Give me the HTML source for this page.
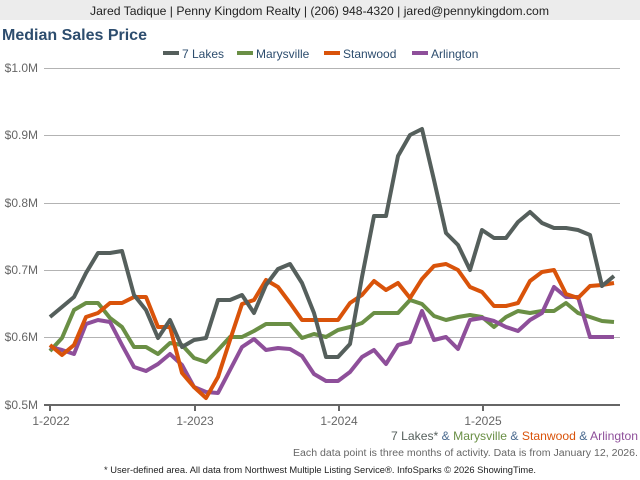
<!DOCTYPE html>
<html><head><meta charset="utf-8"><style>
body{margin:0;width:640px;height:480px;background:#fff;font-family:"Liberation Sans",Arial,sans-serif;overflow:hidden;position:relative}
.hdr{position:absolute;left:0;top:0;width:640px;height:20px;background:#ececec}
</style></head><body>
<div class="hdr"></div>
<svg width="640" height="480" style="position:absolute;left:0;top:0" font-family="Liberation Sans, Arial, sans-serif">
<text x="90" y="15" font-size="12" fill="#222" textLength="459" lengthAdjust="spacingAndGlyphs">Jared Tadique | Penny Kingdom Realty | (206) 948-4320 | jared@pennykingdom.com</text>
<text x="2" y="40" font-size="16" font-weight="bold" fill="#2d4d6e">Median Sales Price</text>
<g font-size="12" fill="#2d4d6e">
<rect x="163" y="51" width="16" height="4" fill="#555f5c"/><text x="182" y="58">7 Lakes</text>
<rect x="237" y="51" width="16" height="4" fill="#6a8f45"/><text x="256" y="58">Marysville</text>
<rect x="324" y="51" width="16" height="4" fill="#d9530a"/><text x="343" y="58">Stanwood</text>
<rect x="412" y="51" width="16" height="4" fill="#8e4f9a"/><text x="431" y="58">Arlington</text>
</g>
<g stroke="#b3b3b3" stroke-width="1">
<line x1="44" y1="68.5" x2="620" y2="68.5"/><line x1="44" y1="135.5" x2="620" y2="135.5"/><line x1="44" y1="203.5" x2="620" y2="203.5"/><line x1="44" y1="270.5" x2="620" y2="270.5"/><line x1="44" y1="337.5" x2="620" y2="337.5"/>
</g>
<g font-size="12" fill="#666" text-anchor="end">
<text x="38" y="72">$1.0M</text><text x="38" y="139">$0.9M</text><text x="38" y="207">$0.8M</text><text x="38" y="274">$0.7M</text><text x="38" y="341">$0.6M</text><text x="38" y="409">$0.5M</text>
</g>
<line x1="44" y1="405" x2="620" y2="405" stroke="#666" stroke-width="2"/>
<g stroke="#666" stroke-width="2"><line x1="50" y1="405" x2="50" y2="411"/><line x1="195" y1="405" x2="195" y2="411"/><line x1="339" y1="405" x2="339" y2="411"/><line x1="483" y1="405" x2="483" y2="411"/></g>
<g font-size="12" fill="#666" text-anchor="middle"><text x="51" y="425">1-2022</text><text x="195" y="425">1-2023</text><text x="339" y="425">1-2024</text><text x="483" y="425">1-2025</text></g>
<g fill="none" stroke-width="4" stroke-linejoin="round">
<polyline stroke="#6a8f45" points="50,351 62,338 74,310 86,303 98,303 110,318 122,327 134,347 146,347 158,354 170,343 182,345 194,358 206,362 218,350 230,337 242,337 254,331 266,324 278,324 290,324 302,338 314,334 326,337 338,330 350,327 362,323 374,313 386,313 398,313 410,300 422,304 434,316 446,320 458,317 470,315 482,317 494,327 506,317 518,311 530,313 542,311 554,311 566,303 578,313 590,317 602,321 614,322"/>
<polyline stroke="#8e4f9a" points="50,347 62,350 74,354 86,324 98,320 110,322 122,345 134,367 146,371 158,364 170,354 182,365 194,387 206,392 218,393 230,370 242,347 254,339 266,350 278,348 290,349 302,356 314,374 326,381 338,381 350,372 362,357 374,350 386,364 398,345 410,342 422,311 434,340 446,337 458,349 470,320 482,318 494,321 506,327 518,331 530,320 542,313 554,287 566,297 578,297 590,337 602,337 614,337"/>
<polyline stroke="#d9530a" points="50,345 62,355 74,345 86,317 98,313 110,303 122,303 134,297 146,297 158,327 170,327 182,373 194,387 206,398 218,377 230,340 242,304 254,300 266,280 278,287 290,303 302,320 314,320 326,320 338,320 350,303 362,295 374,281 386,290 398,283 410,298 422,279 434,266 446,264 458,270 470,287 482,292 494,306 506,306 518,303 530,281 542,272 554,270 566,294 578,298 590,286 602,285 614,283"/>
<polyline stroke="#555f5c" points="50,317 62,307 74,297 86,273 98,253 110,253 122,251 134,295 146,310 158,338 170,320 182,347 194,340 206,338 218,300 230,300 242,295 254,313 266,285 278,269 290,264 302,283 314,313 326,357 338,357 350,344 362,277 374,216 386,216 398,156 410,135 422,129 434,180 446,233 458,245 470,270 482,230 494,238 506,238 518,222 530,212 542,223 554,228 566,228 578,230 590,235 602,286 614,276"/>
</g>
<text x="391" y="440" font-size="12" textLength="247" lengthAdjust="spacingAndGlyphs"><tspan fill="#555f5c">7 Lakes*</tspan><tspan fill="#4a6a8f"> &amp; </tspan><tspan fill="#6a8f45">Marysville</tspan><tspan fill="#4a6a8f"> &amp; </tspan><tspan fill="#d9530a">Stanwood</tspan><tspan fill="#4a6a8f"> &amp; </tspan><tspan fill="#8e4f9a">Arlington</tspan></text>
<text x="293" y="456" font-size="10" fill="#666" textLength="345" lengthAdjust="spacingAndGlyphs">Each data point is three months of activity. Data is from January 12, 2026.</text>
<text x="104" y="473" font-size="9" fill="#222" textLength="432" lengthAdjust="spacingAndGlyphs">* User-defined area. All data from Northwest Multiple Listing Service®. InfoSparks © 2026 ShowingTime.</text>
</svg>
</body></html>
